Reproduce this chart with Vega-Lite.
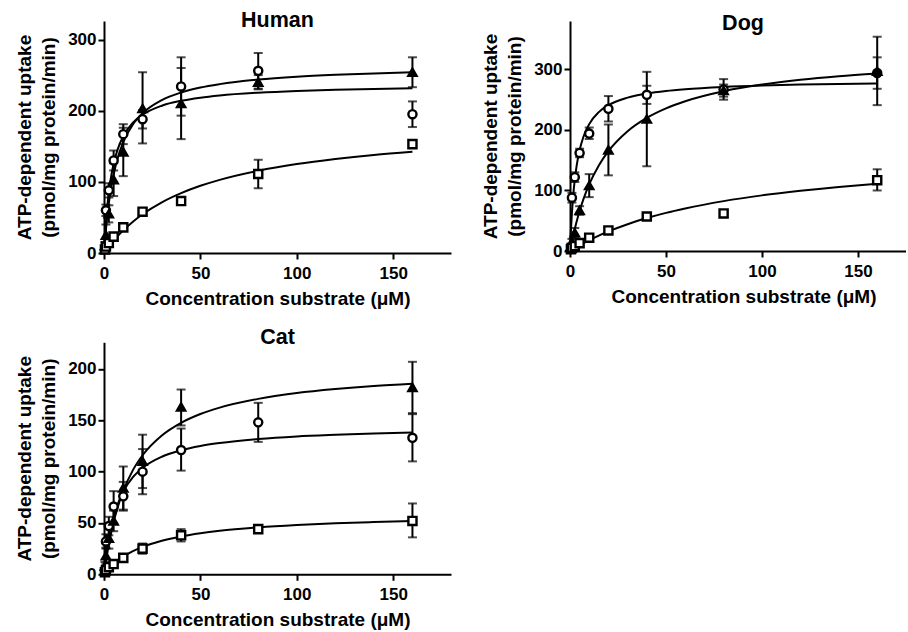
{
"$schema": "https://vega.github.io/schema/vega-lite/v6.json",
"padding": {"left": 15, "top": 10, "right": 0, "bottom": 0},
"background": "white",
"config": {
  "view": {"stroke": null},
  "axis": {"grid": false, "domainColor": "black", "domainWidth": 2, "tickColor": "black", "tickWidth": 2, "tickSize": 6,
    "labelFont": "Liberation Sans", "labelFontSize": 17, "labelFontWeight": "bold", "labelColor": "black",
    "titleFont": "Liberation Sans", "titleFontSize": 19, "titleFontWeight": "bold", "titleColor": "black",
    "labelFlush": false, "labelOverlap": false},
  "axisX": {"labelPadding": 6, "titlePadding": 8},
  "axisY": {"labelPadding": 2, "titlePadding": 9, "titleLineHeight": 24},
  "title": {"font": "Liberation Sans", "fontSize": 21.5, "fontWeight": "bold", "color": "black", "anchor": "middle", "baseline": "alphabetic", "frame": "group"}
},
"datasets": {
"pts": [
{"panel":"Human","series":"circle","x":1,"y":60,"lo":52,"hi":68},
{"panel":"Human","series":"circle","x":2.5,"y":88,"lo":78,"hi":98},
{"panel":"Human","series":"circle","x":5,"y":130,"lo":116,"hi":144},
{"panel":"Human","series":"circle","x":10,"y":167,"lo":153,"hi":181},
{"panel":"Human","series":"circle","x":20,"y":188,"lo":175,"hi":201},
{"panel":"Human","series":"circle","x":40,"y":234,"lo":193,"hi":275},
{"panel":"Human","series":"circle","x":80,"y":256,"lo":231,"hi":281},
{"panel":"Human","series":"circle","x":160,"y":195,"lo":177,"hi":213},
{"panel":"Human","series":"triangle","x":0.5,"y":10,"lo":5,"hi":15},
{"panel":"Human","series":"triangle","x":1,"y":25,"lo":10,"hi":40},
{"panel":"Human","series":"triangle","x":2.5,"y":55,"lo":43,"hi":67},
{"panel":"Human","series":"triangle","x":5,"y":103,"lo":80,"hi":126},
{"panel":"Human","series":"triangle","x":10,"y":142,"lo":108,"hi":176},
{"panel":"Human","series":"triangle","x":20,"y":203,"lo":154,"hi":254},
{"panel":"Human","series":"triangle","x":40,"y":210,"lo":160,"hi":260},
{"panel":"Human","series":"triangle","x":80,"y":240,"lo":230,"hi":250},
{"panel":"Human","series":"triangle","x":160,"y":254,"lo":233,"hi":275},
{"panel":"Human","series":"square","x":0.5,"y":5,"lo":3,"hi":7},
{"panel":"Human","series":"square","x":1,"y":9,"lo":7,"hi":11},
{"panel":"Human","series":"square","x":2.5,"y":14,"lo":11,"hi":17},
{"panel":"Human","series":"square","x":5,"y":23,"lo":20,"hi":26},
{"panel":"Human","series":"square","x":10,"y":36,"lo":33,"hi":39},
{"panel":"Human","series":"square","x":20,"y":58,"lo":55,"hi":61},
{"panel":"Human","series":"square","x":40,"y":73,"lo":70,"hi":77},
{"panel":"Human","series":"square","x":80,"y":111,"lo":91,"hi":131},
{"panel":"Human","series":"square","x":160,"y":153,"lo":150,"hi":156},
{"panel":"Dog","series":"circle","x":1,"y":88,"lo":80,"hi":96},
{"panel":"Dog","series":"circle","x":2.5,"y":122,"lo":114,"hi":130},
{"panel":"Dog","series":"circle","x":5,"y":162,"lo":155,"hi":169},
{"panel":"Dog","series":"circle","x":10,"y":194,"lo":185,"hi":204},
{"panel":"Dog","series":"circle","x":20,"y":235,"lo":214,"hi":256},
{"panel":"Dog","series":"circle","x":40,"y":258,"lo":243,"hi":273},
{"panel":"Dog","series":"circle","x":80,"y":267,"lo":250,"hi":284},
{"panel":"Dog","series":"triangle","x":0.5,"y":8,"lo":4,"hi":12},
{"panel":"Dog","series":"triangle","x":1,"y":15,"lo":10,"hi":20},
{"panel":"Dog","series":"triangle","x":2.5,"y":30,"lo":22,"hi":38},
{"panel":"Dog","series":"triangle","x":5,"y":67,"lo":60,"hi":74},
{"panel":"Dog","series":"triangle","x":10,"y":108,"lo":89,"hi":127},
{"panel":"Dog","series":"triangle","x":20,"y":167,"lo":125,"hi":209},
{"panel":"Dog","series":"triangle","x":40,"y":218,"lo":140,"hi":296},
{"panel":"Dog","series":"triangle","x":80,"y":265,"lo":255,"hi":275},
{"panel":"Dog","series":"triangle","x":160,"y":297,"lo":241,"hi":354},
{"panel":"Dog","series":"circle","x":160,"y":294,"lo":268,"hi":320},
{"panel":"Dog","series":"square","x":0.5,"y":3,"lo":1,"hi":5},
{"panel":"Dog","series":"square","x":1,"y":5,"lo":3,"hi":7},
{"panel":"Dog","series":"square","x":2.5,"y":8,"lo":6,"hi":10},
{"panel":"Dog","series":"square","x":5,"y":13,"lo":11,"hi":15},
{"panel":"Dog","series":"square","x":10,"y":22,"lo":19,"hi":25},
{"panel":"Dog","series":"square","x":20,"y":34,"lo":31,"hi":37},
{"panel":"Dog","series":"square","x":40,"y":57,"lo":54,"hi":60},
{"panel":"Dog","series":"square","x":80,"y":62,"lo":59,"hi":65},
{"panel":"Dog","series":"square","x":160,"y":117,"lo":100,"hi":135},
{"panel":"Cat","series":"circle","x":1,"y":32,"lo":25,"hi":39},
{"panel":"Cat","series":"circle","x":2.5,"y":47,"lo":38,"hi":56},
{"panel":"Cat","series":"circle","x":5,"y":66,"lo":50,"hi":81},
{"panel":"Cat","series":"circle","x":10,"y":76,"lo":62,"hi":90},
{"panel":"Cat","series":"circle","x":20,"y":100,"lo":78,"hi":122},
{"panel":"Cat","series":"circle","x":40,"y":121,"lo":101,"hi":142},
{"panel":"Cat","series":"circle","x":80,"y":148,"lo":129,"hi":167},
{"panel":"Cat","series":"circle","x":160,"y":133,"lo":110,"hi":156},
{"panel":"Cat","series":"triangle","x":0.5,"y":8,"lo":4,"hi":12},
{"panel":"Cat","series":"triangle","x":1,"y":18,"lo":10,"hi":26},
{"panel":"Cat","series":"triangle","x":2.5,"y":35,"lo":25,"hi":45},
{"panel":"Cat","series":"triangle","x":5,"y":52,"lo":42,"hi":62},
{"panel":"Cat","series":"triangle","x":10,"y":84,"lo":63,"hi":105},
{"panel":"Cat","series":"triangle","x":20,"y":110,"lo":84,"hi":136},
{"panel":"Cat","series":"triangle","x":40,"y":163,"lo":145,"hi":180},
{"panel":"Cat","series":"triangle","x":160,"y":182,"lo":157,"hi":207},
{"panel":"Cat","series":"square","x":0.5,"y":2,"lo":1,"hi":3},
{"panel":"Cat","series":"square","x":1,"y":4,"lo":3,"hi":5},
{"panel":"Cat","series":"square","x":2.5,"y":7,"lo":5,"hi":9},
{"panel":"Cat","series":"square","x":5,"y":10,"lo":8,"hi":12},
{"panel":"Cat","series":"square","x":10,"y":16,"lo":13,"hi":19},
{"panel":"Cat","series":"square","x":20,"y":25,"lo":20,"hi":30},
{"panel":"Cat","series":"square","x":40,"y":38,"lo":32,"hi":44},
{"panel":"Cat","series":"square","x":80,"y":44,"lo":41,"hi":47},
{"panel":"Cat","series":"square","x":160,"y":52,"lo":36,"hi":69}
],
"curves": [
{"panel":"Human","series":"circle","x":0,"y":0},{"panel":"Human","series":"circle","x":0.5,"y":23.8},{"panel":"Human","series":"circle","x":1,"y":43.3},{"panel":"Human","series":"circle","x":2,"y":73.2},{"panel":"Human","series":"circle","x":3,"y":95.2},{"panel":"Human","series":"circle","x":4,"y":112},{"panel":"Human","series":"circle","x":5,"y":125.3},{"panel":"Human","series":"circle","x":7,"y":144.9},{"panel":"Human","series":"circle","x":10,"y":164.1},{"panel":"Human","series":"circle","x":15,"y":183.1},{"panel":"Human","series":"circle","x":20,"y":194.3},{"panel":"Human","series":"circle","x":30,"y":207},{"panel":"Human","series":"circle","x":40,"y":213.9},{"panel":"Human","series":"circle","x":50,"y":218.3},{"panel":"Human","series":"circle","x":60,"y":221.4},{"panel":"Human","series":"circle","x":80,"y":225.3},{"panel":"Human","series":"circle","x":100,"y":227.8},{"panel":"Human","series":"circle","x":120,"y":229.4},{"panel":"Human","series":"circle","x":140,"y":230.6},{"panel":"Human","series":"circle","x":160,"y":231.5},
{"panel":"Human","series":"triangle","x":0,"y":0},{"panel":"Human","series":"triangle","x":0.5,"y":17.7},{"panel":"Human","series":"triangle","x":1,"y":33.1},{"panel":"Human","series":"triangle","x":2,"y":58.9},{"panel":"Human","series":"triangle","x":3,"y":79.5},{"panel":"Human","series":"triangle","x":4,"y":96.4},{"panel":"Human","series":"triangle","x":5,"y":110.4},{"panel":"Human","series":"triangle","x":7,"y":132.5},{"panel":"Human","series":"triangle","x":10,"y":155.9},{"panel":"Human","series":"triangle","x":15,"y":180.7},{"panel":"Human","series":"triangle","x":20,"y":196.3},{"panel":"Human","series":"triangle","x":30,"y":214.9},{"panel":"Human","series":"triangle","x":40,"y":225.5},{"panel":"Human","series":"triangle","x":50,"y":232.5},{"panel":"Human","series":"triangle","x":60,"y":237.3},{"panel":"Human","series":"triangle","x":80,"y":243.7},{"panel":"Human","series":"triangle","x":100,"y":247.7},{"panel":"Human","series":"triangle","x":120,"y":250.4},{"panel":"Human","series":"triangle","x":140,"y":252.4},{"panel":"Human","series":"triangle","x":160,"y":253.9},
{"panel":"Human","series":"square","x":0,"y":0},{"panel":"Human","series":"square","x":0.5,"y":1.9},{"panel":"Human","series":"square","x":1,"y":3.8},{"panel":"Human","series":"square","x":2,"y":7.4},{"panel":"Human","series":"square","x":3,"y":10.9},{"panel":"Human","series":"square","x":4,"y":14.2},{"panel":"Human","series":"square","x":5,"y":17.5},{"panel":"Human","series":"square","x":7,"y":23.5},{"panel":"Human","series":"square","x":10,"y":31.9},{"panel":"Human","series":"square","x":15,"y":44},{"panel":"Human","series":"square","x":20,"y":54.4},{"panel":"Human","series":"square","x":30,"y":71.2},{"panel":"Human","series":"square","x":40,"y":84.1},{"panel":"Human","series":"square","x":50,"y":94.4},{"panel":"Human","series":"square","x":60,"y":102.8},{"panel":"Human","series":"square","x":80,"y":115.6},{"panel":"Human","series":"square","x":100,"y":125},{"panel":"Human","series":"square","x":120,"y":132.1},{"panel":"Human","series":"square","x":140,"y":137.8},{"panel":"Human","series":"square","x":160,"y":142.3},
{"panel":"Dog","series":"circle","x":0,"y":0},{"panel":"Dog","series":"circle","x":0.5,"y":35.4},{"panel":"Dog","series":"circle","x":1,"y":62.9},{"panel":"Dog","series":"circle","x":2,"y":102.9},{"panel":"Dog","series":"circle","x":3,"y":130.6},{"panel":"Dog","series":"circle","x":4,"y":150.9},{"panel":"Dog","series":"circle","x":5,"y":166.5},{"panel":"Dog","series":"circle","x":7,"y":188.7},{"panel":"Dog","series":"circle","x":10,"y":209.6},{"panel":"Dog","series":"circle","x":15,"y":229.4},{"panel":"Dog","series":"circle","x":20,"y":240.9},{"panel":"Dog","series":"circle","x":30,"y":253.4},{"panel":"Dog","series":"circle","x":40,"y":260.2},{"panel":"Dog","series":"circle","x":50,"y":264.5},{"panel":"Dog","series":"circle","x":60,"y":267.4},{"panel":"Dog","series":"circle","x":80,"y":271.1},{"panel":"Dog","series":"circle","x":100,"y":273.4},{"panel":"Dog","series":"circle","x":120,"y":275},{"panel":"Dog","series":"circle","x":140,"y":276.1},{"panel":"Dog","series":"circle","x":160,"y":276.9},
{"panel":"Dog","series":"triangle","x":0,"y":0},{"panel":"Dog","series":"triangle","x":0.5,"y":8},{"panel":"Dog","series":"triangle","x":1,"y":15.7},{"panel":"Dog","series":"triangle","x":2,"y":30},{"panel":"Dog","series":"triangle","x":3,"y":43},{"panel":"Dog","series":"triangle","x":4,"y":55},{"panel":"Dog","series":"triangle","x":5,"y":66},{"panel":"Dog","series":"triangle","x":7,"y":85.6},{"panel":"Dog","series":"triangle","x":10,"y":110},{"panel":"Dog","series":"triangle","x":15,"y":141.4},{"panel":"Dog","series":"triangle","x":20,"y":165},{"panel":"Dog","series":"triangle","x":30,"y":198},{"panel":"Dog","series":"triangle","x":40,"y":220},{"panel":"Dog","series":"triangle","x":50,"y":235.7},{"panel":"Dog","series":"triangle","x":60,"y":247.5},{"panel":"Dog","series":"triangle","x":80,"y":264},{"panel":"Dog","series":"triangle","x":100,"y":275},{"panel":"Dog","series":"triangle","x":120,"y":282.9},{"panel":"Dog","series":"triangle","x":140,"y":288.8},{"panel":"Dog","series":"triangle","x":160,"y":293.3},
{"panel":"Dog","series":"square","x":0,"y":0},{"panel":"Dog","series":"square","x":0.5,"y":1},{"panel":"Dog","series":"square","x":1,"y":2},{"panel":"Dog","series":"square","x":2,"y":3.9},{"panel":"Dog","series":"square","x":3,"y":5.8},{"panel":"Dog","series":"square","x":4,"y":7.6},{"panel":"Dog","series":"square","x":5,"y":9.4},{"panel":"Dog","series":"square","x":7,"y":12.9},{"panel":"Dog","series":"square","x":10,"y":17.9},{"panel":"Dog","series":"square","x":15,"y":25.5},{"panel":"Dog","series":"square","x":20,"y":32.4},{"panel":"Dog","series":"square","x":30,"y":44.3},{"panel":"Dog","series":"square","x":40,"y":54.4},{"panel":"Dog","series":"square","x":50,"y":63},{"panel":"Dog","series":"square","x":60,"y":70.3},{"panel":"Dog","series":"square","x":80,"y":82.4},{"panel":"Dog","series":"square","x":100,"y":91.9},{"panel":"Dog","series":"square","x":120,"y":99.5},{"panel":"Dog","series":"square","x":140,"y":105.8},{"panel":"Dog","series":"square","x":160,"y":111},
{"panel":"Cat","series":"circle","x":0,"y":0},{"panel":"Cat","series":"circle","x":0.5,"y":8.5},{"panel":"Cat","series":"circle","x":1,"y":16.1},{"panel":"Cat","series":"circle","x":2,"y":29},{"panel":"Cat","series":"circle","x":3,"y":39.5},{"panel":"Cat","series":"circle","x":4,"y":48.3},{"panel":"Cat","series":"circle","x":5,"y":55.8},{"panel":"Cat","series":"circle","x":7,"y":67.7},{"panel":"Cat","series":"circle","x":10,"y":80.6},{"panel":"Cat","series":"circle","x":15,"y":94.6},{"panel":"Cat","series":"circle","x":20,"y":103.6},{"panel":"Cat","series":"circle","x":30,"y":114.5},{"panel":"Cat","series":"circle","x":40,"y":120.8},{"panel":"Cat","series":"circle","x":50,"y":125},{"panel":"Cat","series":"circle","x":60,"y":127.9},{"panel":"Cat","series":"circle","x":80,"y":131.8},{"panel":"Cat","series":"circle","x":100,"y":134.3},{"panel":"Cat","series":"circle","x":120,"y":135.9},{"panel":"Cat","series":"circle","x":140,"y":137.2},{"panel":"Cat","series":"circle","x":160,"y":138.1},
{"panel":"Cat","series":"triangle","x":0,"y":0},{"panel":"Cat","series":"triangle","x":0.5,"y":6.5},{"panel":"Cat","series":"triangle","x":1,"y":12.7},{"panel":"Cat","series":"triangle","x":2,"y":23.9},{"panel":"Cat","series":"triangle","x":3,"y":33.8},{"panel":"Cat","series":"triangle","x":4,"y":42.7},{"panel":"Cat","series":"triangle","x":5,"y":50.8},{"panel":"Cat","series":"triangle","x":7,"y":64.6},{"panel":"Cat","series":"triangle","x":10,"y":81.2},{"panel":"Cat","series":"triangle","x":15,"y":101.5},{"panel":"Cat","series":"triangle","x":20,"y":116},{"panel":"Cat","series":"triangle","x":30,"y":135.3},{"panel":"Cat","series":"triangle","x":40,"y":147.6},{"panel":"Cat","series":"triangle","x":50,"y":156.2},{"panel":"Cat","series":"triangle","x":60,"y":162.4},{"panel":"Cat","series":"triangle","x":80,"y":170.9},{"panel":"Cat","series":"triangle","x":100,"y":176.5},{"panel":"Cat","series":"triangle","x":120,"y":180.4},{"panel":"Cat","series":"triangle","x":140,"y":183.4},{"panel":"Cat","series":"triangle","x":160,"y":185.6},
{"panel":"Cat","series":"square","x":0,"y":0},{"panel":"Cat","series":"square","x":0.5,"y":1.2},{"panel":"Cat","series":"square","x":1,"y":2.3},{"panel":"Cat","series":"square","x":2,"y":4.4},{"panel":"Cat","series":"square","x":3,"y":6.4},{"panel":"Cat","series":"square","x":4,"y":8.3},{"panel":"Cat","series":"square","x":5,"y":10},{"panel":"Cat","series":"square","x":7,"y":13.1},{"panel":"Cat","series":"square","x":10,"y":17.1},{"panel":"Cat","series":"square","x":15,"y":22.5},{"panel":"Cat","series":"square","x":20,"y":26.7},{"panel":"Cat","series":"square","x":30,"y":32.7},{"panel":"Cat","series":"square","x":40,"y":36.9},{"panel":"Cat","series":"square","x":50,"y":40},{"panel":"Cat","series":"square","x":60,"y":42.4},{"panel":"Cat","series":"square","x":80,"y":45.7},{"panel":"Cat","series":"square","x":100,"y":48},{"panel":"Cat","series":"square","x":120,"y":49.7},{"panel":"Cat","series":"square","x":140,"y":50.9},{"panel":"Cat","series":"square","x":160,"y":51.9}
]
},
"vconcat": [
{"hconcat": [
{
 "width": 347, "height": 232,
 "title": {"text": "Human", "offset": -10.6},
 "encoding": {
  "x": {"field": "x", "type": "quantitative", "scale": {"domain": [0, 180], "nice": false}, "axis": {"values": [0, 50, 100, 150], "title": "Concentration substrate (μM)"}},
  "y": {"field": "y", "type": "quantitative", "scale": {"domain": [0, 326], "nice": false}, "axis": {"values": [0, 100, 200, 300], "title": ["ATP-dependent uptake", "(pmol/mg protein/min)"]}}
 },
 "layer": [
  {"data": {"name": "curves"}, "transform": [{"filter": "datum.panel==='Human'"}], "mark": {"type": "line", "interpolate": "monotone", "color": "black", "strokeWidth": 2}, "encoding": {"detail": {"field": "series"}}},
  {"data": {"name": "pts"}, "transform": [{"filter": "datum.panel==='Human'"}], "mark": {"type": "errorbar", "color": "black", "ticks": {"size": 9, "thickness": 2}, "rule": {"strokeWidth": 2}}, "encoding": {"y": {"field": "lo", "type": "quantitative", "scale": {"domain": [0, 326], "nice": false}, "axis": {"values": [0, 100, 200, 300], "title": ["ATP-dependent uptake", "(pmol/mg protein/min)"]}}, "y2": {"field": "hi"}}},
  {"data": {"name": "pts"}, "transform": [{"filter": "datum.panel==='Human'"}], "mark": {"type": "point", "filled": true, "size": 66, "stroke": "black", "strokeWidth": 2.4, "opacity": 1},
   "encoding": {"shape": {"field": "series", "type": "nominal", "scale": {"domain": ["circle", "triangle", "square"], "range": ["circle", "triangle-up", "square"]}, "legend": null},
    "fill": {"field": "series", "type": "nominal", "scale": {"domain": ["circle", "triangle", "square"], "range": ["white", "black", "white"]}, "legend": null}}}
 ]
},
{
 "width": 336, "height": 230,
 "title": {"text": "Dog", "offset": -13.6, "dx": 5},
 "encoding": {
  "x": {"field": "x", "type": "quantitative", "scale": {"domain": [0, 175], "nice": false}, "axis": {"values": [0, 50, 100, 150], "title": "Concentration substrate (μM)", "titleX": 173.5}},
  "y": {"field": "y", "type": "quantitative", "scale": {"domain": [0, 380], "nice": false}, "axis": {"values": [0, 100, 200, 300], "title": ["ATP-dependent uptake", "(pmol/mg protein/min)"]}}
 },
 "layer": [
  {"data": {"name": "curves"}, "transform": [{"filter": "datum.panel==='Dog'"}], "mark": {"type": "line", "interpolate": "monotone", "color": "black", "strokeWidth": 2}, "encoding": {"detail": {"field": "series"}}},
  {"data": {"name": "pts"}, "transform": [{"filter": "datum.panel==='Dog'"}], "mark": {"type": "errorbar", "color": "black", "ticks": {"size": 9, "thickness": 2}, "rule": {"strokeWidth": 2}}, "encoding": {"y": {"field": "lo", "type": "quantitative", "scale": {"domain": [0, 380], "nice": false}, "axis": {"values": [0, 100, 200, 300], "title": ["ATP-dependent uptake", "(pmol/mg protein/min)"]}}, "y2": {"field": "hi"}}},
  {"data": {"name": "pts"}, "transform": [{"filter": "datum.panel==='Dog'"}], "mark": {"type": "point", "filled": true, "size": 66, "stroke": "black", "strokeWidth": 2.4, "opacity": 1},
   "encoding": {"shape": {"field": "series", "type": "nominal", "scale": {"domain": ["circle", "triangle", "square"], "range": ["circle", "triangle-up", "square"]}, "legend": null},
    "fill": {"condition": {"test": "datum.x===160 && datum.series==='circle'", "value": "black"}, "field": "series", "type": "nominal", "scale": {"domain": ["circle", "triangle", "square"], "range": ["white", "black", "white"]}, "legend": null}}}
 ]
}
], "spacing": 30},
{
 "width": 347, "height": 232,
 "title": {"text": "Cat", "offset": -6.2},
 "encoding": {
  "x": {"field": "x", "type": "quantitative", "scale": {"domain": [0, 180], "nice": false}, "axis": {"values": [0, 50, 100, 150], "title": "Concentration substrate (μM)"}},
  "y": {"field": "y", "type": "quantitative", "scale": {"domain": [0, 226], "nice": false}, "axis": {"values": [0, 50, 100, 150, 200], "title": ["ATP-dependent uptake", "(pmol/mg protein/min)"]}}
 },
 "layer": [
  {"data": {"name": "curves"}, "transform": [{"filter": "datum.panel==='Cat'"}], "mark": {"type": "line", "interpolate": "monotone", "color": "black", "strokeWidth": 2}, "encoding": {"detail": {"field": "series"}}},
  {"data": {"name": "pts"}, "transform": [{"filter": "datum.panel==='Cat'"}], "mark": {"type": "errorbar", "color": "black", "ticks": {"size": 9, "thickness": 2}, "rule": {"strokeWidth": 2}}, "encoding": {"y": {"field": "lo", "type": "quantitative", "scale": {"domain": [0, 226], "nice": false}, "axis": {"values": [0, 50, 100, 150, 200], "title": ["ATP-dependent uptake", "(pmol/mg protein/min)"]}}, "y2": {"field": "hi"}}},
  {"data": {"name": "pts"}, "transform": [{"filter": "datum.panel==='Cat'"}], "mark": {"type": "point", "filled": true, "size": 66, "stroke": "black", "strokeWidth": 2.4, "opacity": 1},
   "encoding": {"shape": {"field": "series", "type": "nominal", "scale": {"domain": ["circle", "triangle", "square"], "range": ["circle", "triangle-up", "square"]}, "legend": null},
    "fill": {"field": "series", "type": "nominal", "scale": {"domain": ["circle", "triangle", "square"], "range": ["white", "black", "white"]}, "legend": null}}}
 ]
}
],
"spacing": 18.3
}
